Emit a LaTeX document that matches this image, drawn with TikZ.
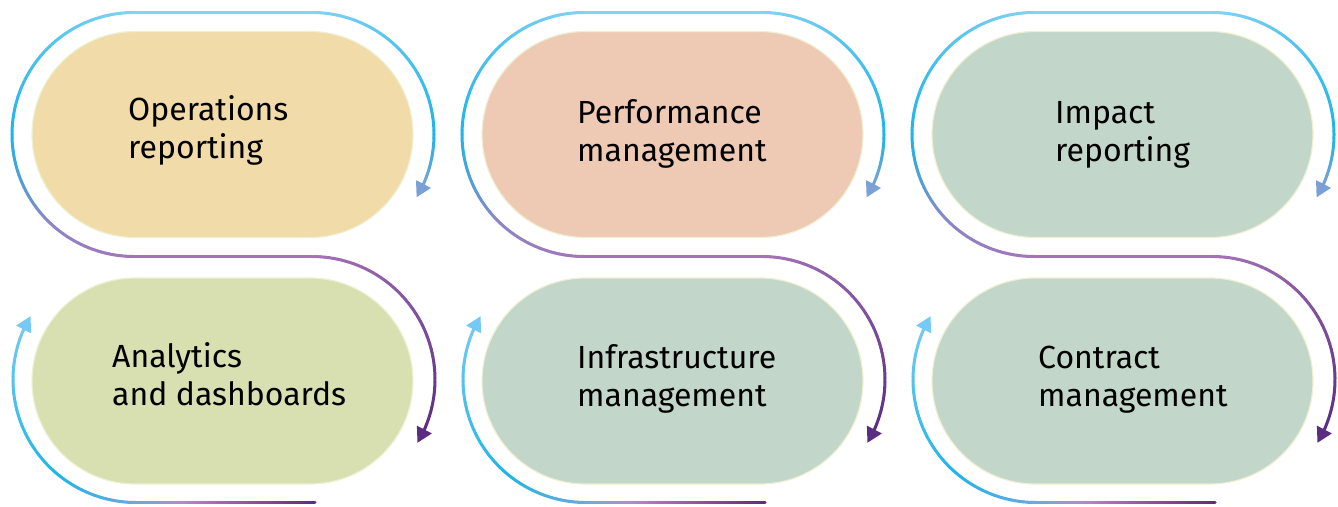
\documentclass[tikz,border=0pt]{standalone}
\usepackage{fontspec}
\setmainfont{Fira Sans}
\usetikzlibrary{arrows.meta,shapes.misc}
\definecolor{cL}{HTML}{86D2F3}
\definecolor{cLa}{HTML}{74CAF2}
\definecolor{cC}{HTML}{1DB5E8}
\definecolor{cB}{HTML}{6FA8DE}
\definecolor{cV}{HTML}{7BA0D6}
\definecolor{cVb}{HTML}{8A86C8}
\definecolor{cP}{HTML}{A574B8}
\definecolor{cLil}{HTML}{B28DC8}
\definecolor{cM}{HTML}{A45DA6}
\definecolor{cD}{HTML}{5B2D82}
\definecolor{stadline}{HTML}{EEF0D2}
\definecolor{fOp}{HTML}{F0DBA9}
\definecolor{fPe}{HTML}{EECAB5}
\definecolor{fGr}{HTML}{C2D6C9}
\definecolor{fAn}{HTML}{D8E0B1}
\tikzset{
  flow/.style={line width=3pt, line cap=round},
  stad/.style={rounded rectangle, draw=stadline, line width=1.2pt,
    minimum width=381pt, minimum height=206pt, inner sep=0pt},
  lbl/.style={anchor=base west, inner sep=0pt, text=black,
    font=\fontsize{32pt}{38pt}\selectfont},
  tip/.style={-{Triangle[width=16pt,length=15pt]}}
}
% gradient arc: cx, cy, r, a0, a1, colA, colB
\newcommand\garc[7]{%
  \pgfmathtruncatemacro\gN{max(2,round(abs((#5)-(#4))/2))}%
  \foreach \i in {1,...,\gN}{%
    \pgfmathsetmacro\ga{(#4)+((#5)-(#4))*(\i-1)/\gN}%
    \pgfmathsetmacro\gb{(#4)+((#5)-(#4))*\i/\gN}%
    \pgfmathtruncatemacro\gp{100*(\i-0.5)/\gN}%
    \draw[flow, draw=#7!\gp!#6] ({#1+#3*cos(\ga)},{#2+#3*sin(\ga)}) -- ({#1+#3*cos(\gb)},{#2+#3*sin(\gb)});
  }}
% gradient line: x0, x1, y, colA, colB
\newcommand\gline[5]{%
  \pgfmathtruncatemacro\gN{max(2,round(abs((#2)-(#1))/3))}%
  \foreach \i in {1,...,\gN}{%
    \pgfmathsetmacro\ga{(#1)+((#2)-(#1))*(\i-1)/\gN}%
    \pgfmathsetmacro\gb{(#1)+((#2)-(#1))*\i/\gN}%
    \pgfmathtruncatemacro\gp{100*(\i-0.5)/\gN}%
    \draw[flow, draw=#5!\gp!#4] (\ga,#3) -- (\gb,#3);
  }}
% arrow end: cx, cy, r, a0, a1, col
\newcommand\garrow[6]{%
  \draw[flow, tip, draw=#6, fill=#6] ({#1+#3*cos(#4)},{#2+#3*sin(#4)}) -- ({#1+#3*cos(#5)},{#2+#3*sin(#5)});}
\newcommand\lines[1]{\begin{tabular}[t]{@{}l@{}}#1\end{tabular}}
\begin{document}
\begin{tikzpicture}[x=1pt,y=-1pt]
\useasboundingbox (0,0) rectangle (1338,506);
% stadium shapes
\node[stad, fill=fOp] (s1) at (222.5,134.5) {};
\node[stad, fill=fPe] (s2) at (672.5,134.5) {};
\node[stad, fill=fGr] (s3) at (1122.5,134.5) {};
\node[stad, fill=fAn] (s4) at (222.5,381) {};
\node[stad, fill=fGr] (s5) at (672.5,381) {};
\node[stad, fill=fGr] (s6) at (1122.5,381) {};
% labels
\node[lbl] (t1) at (128,120) {\lines{Operations\\reporting}};
\node[lbl] (t2) at (577,123) {\lines{Performance\\management}};
\node[lbl] (t3) at (1055,123) {\lines{Impact\\reporting}};
\node[lbl] (t4) at (112,367) {\lines{Analytics\\and dashboards}};
\node[lbl] (t5) at (577,368) {\lines{Infrastructure\\management}};
\node[lbl] (t6) at (1038,368) {\lines{Contract\\management}};
% cycle arrows
\foreach \d in {0,450,900}{
  % top loop
  \gline{134+\d}{312+\d}{256.5}{cP}{cP}
  \garc{134+\d}{134.5}{122}{90}{135}{cP}{cVb}
  \garc{134+\d}{134.5}{122}{135}{180}{cVb}{cC}
  \garc{134+\d}{134.5}{122}{180}{270}{cC}{cL}
  \gline{134+\d}{312+\d}{12.5}{cL}{cL}
  \garc{312+\d}{134.5}{122}{270}{360}{cL}{cC}
  \garc{312+\d}{134.5}{122}{0}{25}{cC}{cV}
  \garrow{312+\d}{134.5}{122}{24}{31}{cV}
  % lower right arc
  \garc{312+\d}{379.5}{123}{-90}{25}{cP}{cD}
  \garrow{312+\d}{379.5}{123}{24}{31}{cD}
  % lower left arc
  \gline{315+\d}{230+\d}{502.5}{cD}{cM}
  \gline{230+\d}{180+\d}{502.5}{cM}{cLil}
  \gline{180+\d}{136+\d}{502.5}{cLil}{cB}
  \garc{136+\d}{379.5}{123}{90}{130}{cB}{cC}
  \garc{136+\d}{379.5}{123}{130}{205}{cC}{cLa}
  \garrow{136+\d}{379.5}{123}{204}{211}{cLa}
}
\end{tikzpicture}
\end{document}
